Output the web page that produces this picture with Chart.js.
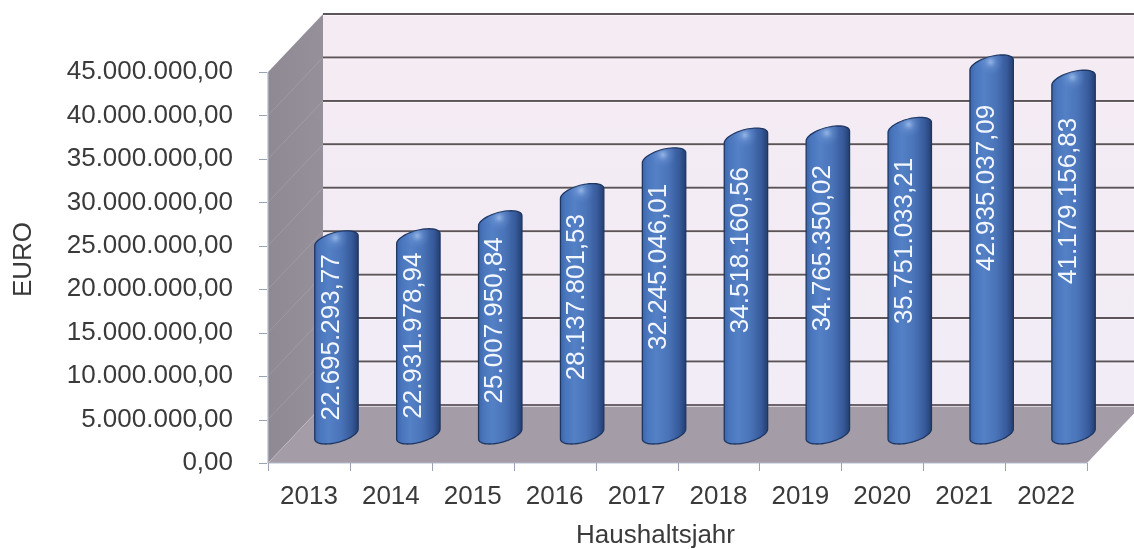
<!DOCTYPE html>
<html>
<head>
<meta charset="utf-8">
<script src="https://cdn.jsdelivr.net/npm/chart.js@4/dist/chart.umd.min.js"></script>
<style>
  html, body { margin: 0; padding: 0; background: #ffffff; }
  canvas { display: block; }
</style>
</head>
<body>
<canvas id="chart" width="1134" height="549"></canvas>
<script>
// Haushaltsjahre und Beträge in EURO
const years = ['2013', '2014', '2015', '2016', '2017', '2018', '2019', '2020', '2021', '2022'];
const amounts = [
  22695293.77, 22931978.94, 25007950.84, 28137801.53, 32245046.01,
  34518160.56, 34765350.02, 35751033.21, 42935037.09, 41179156.83
];
const yMin = 0;
const yMax = 45000000;
const yStep = 5000000;
const xTitle = 'Haushaltsjahr';
const yTitle = 'EURO';

// oblique depth of the 3D box (back wall offset from the front plane)
const DEPTH_X = 55;
const DEPTH_Y = -58;
const FONT = '"Liberation Sans", Arial, Helvetica, sans-serif';
const TEXT = '#3a3a3a';

function fmtEuro(v) {
  const parts = Number(v).toFixed(2).split('.');
  return parts[0].replace(/\B(?=(\d{3})+(?!\d))/g, '.') + ',' + parts[1];
}

function poly(ctx, pts) {
  ctx.beginPath();
  ctx.moveTo(pts[0][0], pts[0][1]);
  for (let i = 1; i < pts.length; i++) ctx.lineTo(pts[i][0], pts[i][1]);
  ctx.closePath();
}

// walls, floor, gridlines and tick marks of the 3D box
const boxPlugin = {
  id: 'box3d',
  beforeDraw(chart) {
    const ctx = chart.ctx;
    const { left, right, top, bottom } = chart.chartArea;
    const y = chart.scales.y;
    const W = chart.width;
    ctx.save();

    // back wall
    const bTop = top + DEPTH_Y, bBot = bottom + DEPTH_Y, bLeft = left + DEPTH_X;
    const g = ctx.createLinearGradient(0, bTop, 0, bBot);
    g.addColorStop(0, '#f5ebf3');
    g.addColorStop(1, '#f1ecf6');
    ctx.fillStyle = g;
    ctx.fillRect(bLeft, bTop, W - bLeft + 20, bBot - bTop);

    // side wall
    const sg = ctx.createLinearGradient(left, 0, bLeft, 0);
    sg.addColorStop(0, '#8e8993');
    sg.addColorStop(1, '#96909a');
    ctx.fillStyle = sg;
    poly(ctx, [[left, top], [bLeft, bTop], [bLeft, bBot], [left, bottom]]);
    ctx.fill();

    // floor
    ctx.fillStyle = '#a49ca6';
    poly(ctx, [[left, bottom], [bLeft, bBot], [right + DEPTH_X, bBot], [right, bottom]]);
    ctx.fill();

    // gridlines on back wall and faint ones on side wall
    for (let v = yMin; v <= yMax; v += yStep) {
      const py = y.getPixelForValue(v);
      ctx.strokeStyle = 'rgba(255,255,255,0.12)';
      ctx.lineWidth = 1;
      ctx.beginPath();
      ctx.moveTo(left, py);
      ctx.lineTo(bLeft, py + DEPTH_Y);
      ctx.stroke();

      ctx.strokeStyle = v === yMin ? '#6d6470' : '#5d5459';
      ctx.lineWidth = 2;
      ctx.beginPath();
      ctx.moveTo(bLeft, py + DEPTH_Y);
      ctx.lineTo(W + 5, py + DEPTH_Y);
      ctx.stroke();
      ctx.strokeStyle = 'rgba(255,255,255,0.55)';
      ctx.lineWidth = 1;
      ctx.beginPath();
      ctx.moveTo(bLeft, py + DEPTH_Y + 1.5);
      ctx.lineTo(W + 5, py + DEPTH_Y + 1.5);
      ctx.stroke();
    }

    // front edges
    ctx.strokeStyle = '#b4bccb';
    ctx.lineWidth = 1.2;
    ctx.beginPath();
    ctx.moveTo(left, top);
    ctx.lineTo(left, bottom);
    ctx.lineTo(right, bottom);
    ctx.stroke();

    // y tick marks
    ctx.strokeStyle = '#9aa3b3';
    ctx.lineWidth = 1;
    for (let v = yMin; v <= yMax; v += yStep) {
      const py = Math.round(y.getPixelForValue(v)) + 0.5;
      ctx.beginPath();
      ctx.moveTo(left - 9, py);
      ctx.lineTo(left - 1, py);
      ctx.stroke();
    }
    // x tick marks at category boundaries
    const n = years.length;
    const step = (right - left) / n;
    for (let i = 0; i <= n; i++) {
      const px = Math.round(left + i * step) + 0.5;
      ctx.beginPath();
      ctx.moveTo(px, bottom);
      ctx.lineTo(px, bottom + 8);
      ctx.stroke();
    }
    ctx.restore();
  }
};

// cylinder columns with value labels, placed at mid depth
const cylinderPlugin = {
  id: 'cylinders',
  afterDatasetsDraw(chart) {
    const ctx = chart.ctx;
    const yScale = chart.scales.y;
    const meta = chart.getDatasetMeta(0);
    meta.data.forEach((el, i) => {
      const p = el.getProps(['x', 'y', 'base', 'width'], true);
      const cx = p.x + DEPTH_X / 2;
      const halfW = p.width / 2;
      const yTop = p.y + DEPTH_Y / 2 + 4;
      const yBase = p.base + DEPTH_Y / 2;
      const pd = halfW * 0.5;
      const qd = halfW * 0.46;
      const r = Math.sqrt(halfW * halfW - pd * pd);
      const thR = Math.atan2(pd, r);
      const pt = (th, yl) => [cx + r * Math.cos(th) + pd * Math.sin(th), yl - qd * Math.sin(th)];

      ctx.save();
      // silhouette
      ctx.beginPath();
      const N = 30;
      const s = pt(thR + Math.PI, yTop);
      ctx.moveTo(s[0], s[1]);
      for (let k = 0; k <= N; k++) {
        const q = pt(thR + Math.PI + Math.PI * k / N, yBase);
        ctx.lineTo(q[0], q[1]);
      }
      for (let k = 0; k <= N; k++) {
        const q = pt(thR + Math.PI * k / N, yTop);
        ctx.lineTo(q[0], q[1]);
      }
      ctx.closePath();
      const g = ctx.createLinearGradient(cx - halfW, 0, cx + halfW, 0);
      g.addColorStop(0, '#3d66a9');
      g.addColorStop(0.12, '#4a76bd');
      g.addColorStop(0.32, '#5480c6');
      g.addColorStop(0.6, '#4a74b8');
      g.addColorStop(0.85, '#375a9b');
      g.addColorStop(1, '#243f70');
      ctx.fillStyle = g;
      ctx.fill();
      ctx.strokeStyle = '#1e3662';
      ctx.lineWidth = 1.3;
      ctx.stroke();

      // rounded top highlight
      ctx.clip();
      const hx = cx - halfW * 0.05, hy = yTop - qd * 0.3;
      const rg = ctx.createRadialGradient(hx, hy, 1, hx, hy, halfW * 0.6);
      rg.addColorStop(0, 'rgba(165,195,240,0.7)');
      rg.addColorStop(0.45, 'rgba(120,160,220,0.3)');
      rg.addColorStop(1, 'rgba(100,140,210,0)');
      ctx.fillStyle = rg;
      ctx.beginPath();
      ctx.ellipse(hx, hy, halfW * 0.7, qd * 1.2, 0, 0, Math.PI * 2);
      ctx.fill();
      ctx.restore();

      // value label, centred a little below the column's upper part
      const labelY = yScale.getPixelForValue(amounts[i] * 0.85) + 42;
      ctx.save();
      ctx.translate(cx - 5, labelY);
      ctx.rotate(-Math.PI / 2);
      ctx.fillStyle = '#f2f6ff';
      ctx.font = '26px ' + FONT;
      ctx.textAlign = 'center';
      ctx.textBaseline = 'middle';
      ctx.fillText(fmtEuro(amounts[i]), 0, 0);
      ctx.restore();
    });
  },
  afterDraw(chart) {
    const ctx = chart.ctx;
    const { left, right, top, bottom } = chart.chartArea;
    ctx.save();
    ctx.fillStyle = TEXT;
    ctx.font = '26px ' + FONT;
    ctx.textAlign = 'center';
    ctx.textBaseline = 'alphabetic';
    ctx.fillText(xTitle, (left + right) / 2 - 22, chart.height - 6);
    ctx.translate(24, (top + bottom) / 2 - 8);
    ctx.rotate(-Math.PI / 2);
    ctx.textBaseline = 'middle';
    ctx.fillText(yTitle, 0, 0);
    ctx.restore();
  }
};

Chart.defaults.font.family = FONT;

new Chart(document.getElementById('chart'), {
  type: 'bar',
  data: {
    labels: years,
    datasets: [{
      data: amounts,
      backgroundColor: 'rgba(0,0,0,0)',
      borderWidth: 0,
      barPercentage: 0.53,
      categoryPercentage: 1
    }]
  },
  options: {
    responsive: false,
    animation: false,
    devicePixelRatio: 1,
    layout: { padding: { top: 72, right: 47, left: 0, bottom: 0 } },
    plugins: { legend: { display: false }, tooltip: { enabled: false } },
    scales: {
      x: {
        grid: { display: false },
        border: { display: false },
        ticks: { color: TEXT, font: { size: 26 }, padding: 10, maxRotation: 0, autoSkip: false },
        afterFit(s) { s.height = 86; }
      },
      y: {
        min: yMin,
        max: yMax,
        grid: { display: false },
        border: { display: false },
        ticks: { stepSize: yStep, color: TEXT, font: { size: 26 }, padding: 27, callback: v => fmtEuro(v) },
        afterFit(s) { s.width = 268; }
      }
    }
  },
  plugins: [boxPlugin, cylinderPlugin]
});
</script>
</body>
</html>
